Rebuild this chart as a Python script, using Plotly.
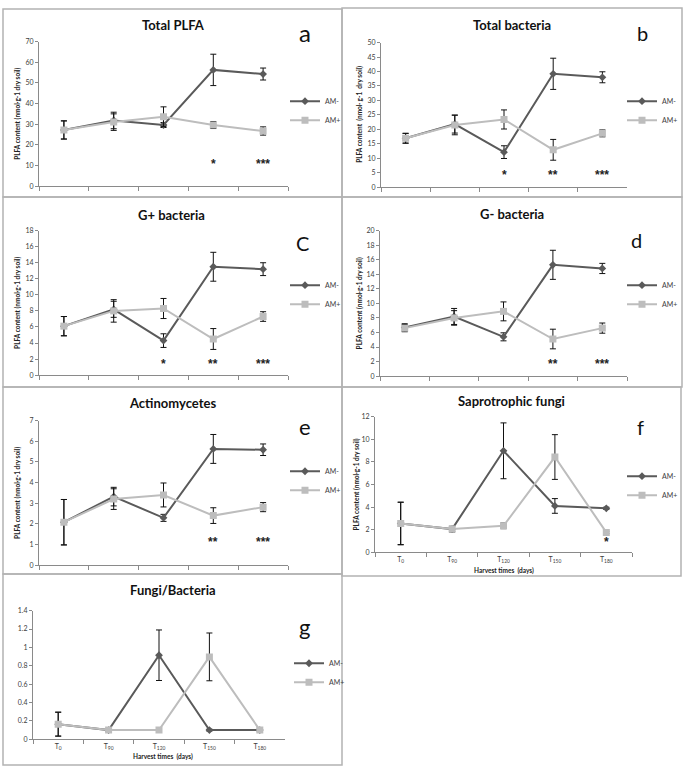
import plotly.graph_objects as go

W, H = 685, 772

harvest = ["T<sub>0</sub>", "T<sub>90</sub>", "T<sub>120</sub>", "T<sub>150</sub>", "T<sub>180</sub>"]
series_names = ["AM-", "AM+"]

# a) Total PLFA
plfa_minus = [27.2, 31.8, 29.6, 56.3, 54.3]
plfa_minus_err = [4.4, 4.0, 1.2, 7.6, 2.9]
plfa_plus = [27.2, 31.0, 33.6, 29.6, 26.7]
plfa_plus_err = [4.4, 4.0, 4.8, 1.7, 2.0]
plfa_stars = ["", "", "", "*", "***"]

# b) Total bacteria
bact_minus = [16.9, 21.8, 12.1, 39.2, 38.0]
bact_minus_err = [1.7, 3.1, 2.2, 5.4, 1.9]
bact_plus = [16.9, 21.5, 23.4, 12.9, 18.6]
bact_plus_err = [1.7, 3.4, 3.3, 3.6, 1.2]
bact_stars = ["", "", "*", "**", "***"]

# c) G+ bacteria
gpos_minus = [6.1, 8.2, 4.3, 13.5, 13.2]
gpos_minus_err = [1.2, 1.0, 0.85, 1.8, 0.8]
gpos_plus = [6.1, 8.0, 8.3, 4.5, 7.3]
gpos_plus_err = [1.2, 1.4, 1.25, 1.3, 0.6]
gpos_stars = ["", "", "*", "**", "***"]

# d) G- bacteria
gneg_minus = [6.7, 8.2, 5.4, 15.3, 14.8]
gneg_minus_err = [0.5, 1.1, 0.55, 2.0, 0.7]
gneg_plus = [6.6, 8.0, 8.9, 5.1, 6.6]
gneg_plus_err = [0.5, 1.0, 1.3, 1.35, 0.7]
gneg_stars = ["", "", "", "**", "***"]

# e) Actinomycetes
acti_minus = [2.08, 3.32, 2.29, 5.63, 5.59]
acti_minus_err = [1.1, 0.45, 0.17, 0.7, 0.28]
acti_plus = [2.08, 3.2, 3.4, 2.4, 2.81]
acti_plus_err = [1.1, 0.5, 0.58, 0.38, 0.22]
acti_stars = ["", "", "", "**", "***"]

# f) Saprotrophic fungi
sapr_minus = [2.55, 2.05, 8.98, 4.1, 3.89]
sapr_minus_err = [1.88, 0.25, 2.47, 0.65, 0.1]
sapr_plus = [2.55, 2.05, 2.34, 8.43, 1.76]
sapr_plus_err = [1.88, 0.2, 0.25, 1.98, 0.1]
sapr_stars = ["", "", "", "", "*"]

# g) Fungi/Bacteria
fb_minus = [0.165, 0.1, 0.915, 0.1, 0.1]
fb_minus_err = [0.13, 0.01, 0.275, 0.01, 0.01]
fb_plus = [0.165, 0.1, 0.1, 0.897, 0.1]
fb_plus_err = [0.13, 0.01, 0.01, 0.26, 0.01]
fb_stars = ["", "", "", "", ""]

YT = "PLFA content (nmol·g-1 dry soil)"
YT_B = "PLFA content  (nmol· g-1  dry soil)"

panels = [
    dict(title="Total PLFA", letter="a", mi=plfa_minus, mie=plfa_minus_err, pl=plfa_plus, ple=plfa_plus_err,
         stars=plfa_stars, star_y=10.8, ymax=70, dtick=10, ytitle=YT,
         box=(3, 4, 342, 194), plot=(39, 37, 288, 183), title_xy=(173, 20), letter_xy=(305, 28), lsize=24,
         leg=(285, 82.5), ytx=18, xlab=False),
    dict(title="Total bacteria", letter="b", mi=bact_minus, mie=bact_minus_err, pl=bact_plus, ple=bact_plus_err,
         stars=bact_stars, star_y=4.3, ymax=50, dtick=5, ytitle=YT_B,
         box=(342, 3, 682, 194), plot=(381, 38, 627, 184), title_xy=(512, 20), letter_xy=(642, 28), lsize=20,
         leg=(622, 82.5), ytx=360, xlab=False),
    dict(title="G+ bacteria", letter="C", mi=gpos_minus, mie=gpos_minus_err, pl=gpos_plus, ple=gpos_plus_err,
         stars=gpos_stars, star_y=1.4, ymax=18, dtick=2, ytitle=YT,
         box=(3, 194, 342, 386), plot=(39, 228, 288, 374), title_xy=(171, 212), letter_xy=(302, 240), lsize=20,
         leg=(285, 268.5), ytx=18, xlab=False),
    dict(title="G- bacteria", letter="d", mi=gneg_minus, mie=gneg_minus_err, pl=gneg_plus, ple=gneg_plus_err,
         stars=gneg_stars, star_y=1.6, ymax=20, dtick=2, ytitle=YT,
         box=(342, 194, 682, 386), plot=(380, 228, 627, 375), title_xy=(512, 211), letter_xy=(636, 237), lsize=20,
         leg=(622, 268.5), ytx=359, xlab=False),
    dict(title="Actinomycetes", letter="e", mi=acti_minus, mie=acti_minus_err, pl=acti_plus, ple=acti_plus_err,
         stars=acti_stars, star_y=1.1, ymax=7, dtick=1, ytitle=YT,
         box=(3, 386, 342, 575), plot=(39, 420, 288, 566), title_xy=(172, 402), letter_xy=(305, 426), lsize=22,
         leg=(285, 456.5), ytx=18, xlab=False),
    dict(title="Saprotrophic fungi", letter="f", mi=sapr_minus, mie=sapr_minus_err, pl=sapr_plus, ple=sapr_plus_err,
         stars=sapr_stars, star_y=0.9, ymax=12, dtick=2, ytitle=YT,
         box=(342, 386, 681, 577), plot=(375, 416, 632, 553), title_xy=(512, 400), letter_xy=(640, 426), lsize=20,
         leg=(622, 461.5), ytx=356, xlab=True, xtitle_xy=(504, 571)),
    dict(title="Fungi/Bacteria", letter="g", mi=fb_minus, mie=fb_minus_err, pl=fb_plus, ple=fb_plus_err,
         stars=fb_stars, star_y=0.0, ymax=1.4, dtick=0.2, ytitle="",
         box=(3, 575, 342, 768), plot=(33, 612, 285, 742), title_xy=(173, 591), letter_xy=(304, 628), lsize=22,
         leg=(289, 650.5), ytx=14, xlab=True, xtitle_xy=(163, 759)),
]

C_MINUS = "#5a5a5a"
C_PLUS = "#bdbdbd"
AXC = "#8a8a8a"
TXT = "#404040"
FONT = "Lato, 'Open Sans', sans-serif"
STAR_FONT = "'Liberation Sans', Arial, sans-serif"


def fx(x):
    return x / W


def fy(y):
    return 1 - y / H


fig = go.Figure()
layout = dict(
    width=W, height=H, margin=dict(l=0, r=0, t=0, b=0),
    paper_bgcolor="white", plot_bgcolor="white",
    font=dict(family=FONT, color=TXT, size=7),
    shapes=[], annotations=[],
)

for i, p in enumerate(panels):
    k = "" if i == 0 else str(i + 1)
    xa, ya = "x" + k, "y" + k
    legname = "legend" + k
    x0, y0, x1, y1 = p["plot"]
    for name, vals, errs, color, sym, msize in [
        (series_names[0], p["mi"], p["mie"], C_MINUS, "diamond", 6),
        (series_names[1], p["pl"], p["ple"], C_PLUS, "square", 7),
    ]:
        fig.add_trace(go.Scatter(
            x=harvest, y=vals, name=name, mode="lines+markers",
            line=dict(color=color, width=2),
            marker=dict(symbol=sym, size=msize, color=color),
            error_y=dict(type="data", array=errs, visible=True, color="#111111", thickness=1, width=3),
            xaxis=xa, yaxis=ya, legend=legname, hoverinfo="skip",
        ))
    layout["xaxis" + k] = dict(
        domain=[fx(x0), fx(x1)], anchor=ya, type="category",
        categoryorder="array", categoryarray=harvest, range=[-0.5, 4.5],
        showline=True, linecolor=AXC, linewidth=1, ticks="outside", tickson="boundaries",
        ticklen=4, tickcolor=AXC, showgrid=False, zeroline=False,
        showticklabels=p["xlab"], tickfont=dict(size=7, color=TXT, family=FONT),
        fixedrange=True,
    )
    layout["yaxis" + k] = dict(
        domain=[fy(y1), fy(y0)], anchor=xa, range=[0, p["ymax"]], dtick=p["dtick"], tick0=0,
        showline=True, linecolor=AXC, linewidth=1, ticks="outside", ticklen=3, tickcolor=AXC,
        showgrid=False, zeroline=False, tickfont=dict(size=7, color=TXT, family=FONT),
        fixedrange=True,
    )
    lx, ly = p["leg"]
    layout[legname] = dict(
        x=fx(lx), y=fy(ly), xanchor="left", yanchor="top", xref="paper", yref="paper",
        bgcolor="rgba(0,0,0,0)", borderwidth=0, font=dict(size=7, color=TXT, family=FONT),
        itemwidth=30, tracegroupgap=0,
    )
    bx0, by0, bx1, by1 = p["box"]
    layout["shapes"].append(dict(
        type="rect", xref="paper", yref="paper", x0=fx(bx0), x1=fx(bx1), y0=fy(by1), y1=fy(by0),
        line=dict(color="#b3b3b3", width=1.5), fillcolor="rgba(0,0,0,0)", layer="below",
    ))
    tx, ty = p["title_xy"]
    layout["annotations"].append(dict(
        text="<b>" + p["title"] + "</b>", x=fx(tx), y=fy(ty), xref="paper", yref="paper",
        xanchor="center", yanchor="middle", showarrow=False,
        font=dict(size=13, color="#111111", family=FONT),
    ))
    lx2, ly2 = p["letter_xy"]
    layout["annotations"].append(dict(
        text=p["letter"], x=fx(lx2), y=fy(ly2), xref="paper", yref="paper",
        xanchor="center", yanchor="middle", showarrow=False,
        font=dict(size=p["lsize"], color="#111111", family=FONT),
    ))
    if p["ytitle"]:
        layout["annotations"].append(dict(
            text="<b>" + p["ytitle"] + "</b>", x=fx(p["ytx"]), y=fy((y0 + y1) / 2), xref="paper", yref="paper",
            xanchor="center", yanchor="middle", showarrow=False, textangle=-90,
            font=dict(size=6.5, color="#222222", family=FONT),
        ))
    if "xtitle_xy" in p:
        hx, hy = p["xtitle_xy"]
        layout["annotations"].append(dict(
            text="<b>Harvest times  (days)</b>", x=fx(hx), y=fy(hy), xref="paper", yref="paper",
            xanchor="center", yanchor="middle", showarrow=False,
            font=dict(size=6.5, color="#222222", family=FONT),
        ))
    for cat, s in zip(harvest, p["stars"]):
        if s:
            layout["annotations"].append(dict(
                text="<b>" + s + "</b>", x=cat, y=p["star_y"], xref=xa, yref=ya,
                xanchor="center", yanchor="middle", showarrow=False,
                font=dict(size=12, color="#222222", family=STAR_FONT),
            ))

fig.update_layout(**layout)
fig.write_html(
    "out.html",
    config={"displayModeBar": False},
    post_script="document.body.style.margin='0';document.body.style.overflow='hidden';",
)
